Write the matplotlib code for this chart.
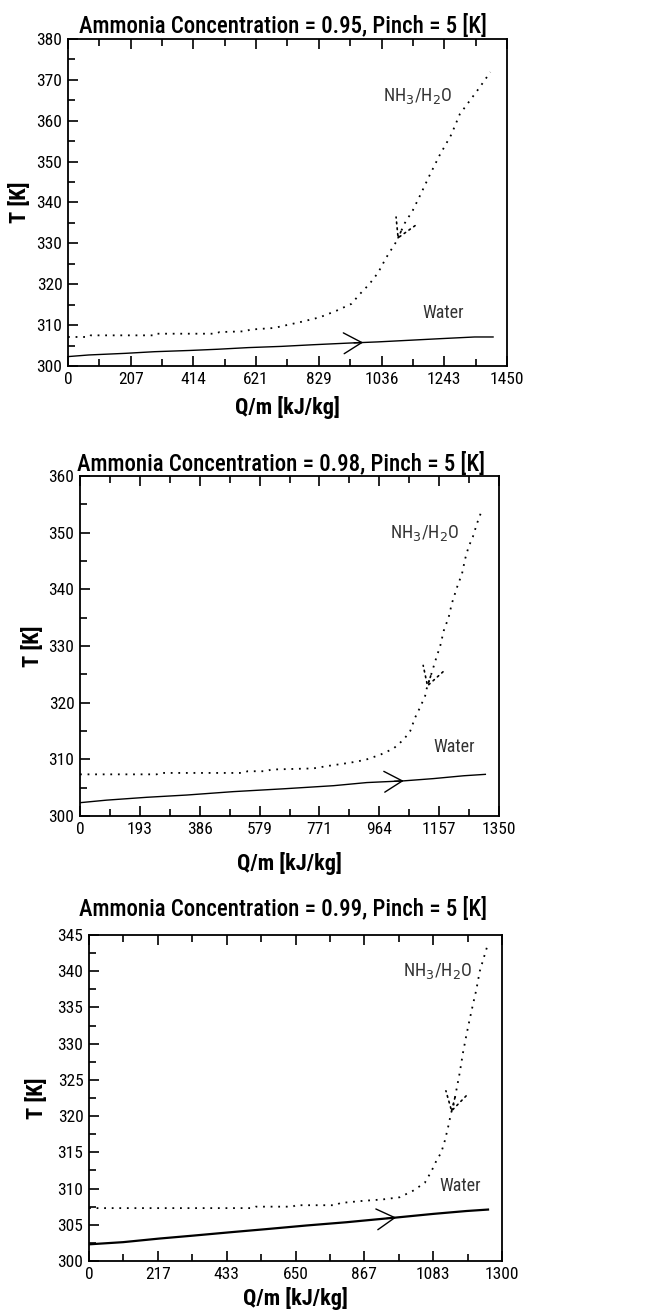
import numpy as np
import matplotlib.pyplot as plt

plt.rcParams['font.family'] = ['Roboto Condensed', 'Liberation Sans Narrow', 'Liberation Sans']

# ---- data ----
conc = [0.95, 0.98, 0.99]
pinch = 5
xmax = [1450, 1350, 1300]
n_xint = [7, 7, 6]
ylims = [(300, 380), (300, 360), (300, 345)]
ymaj = [10, 10, 5]

q95_nh3 = [0, 70, 75, 280, 285, 490, 500, 590, 600, 680, 716, 765, 831, 886, 936, 964, 995,
           1024, 1051, 1085, 1112, 1139, 1166, 1194, 1227, 1266, 1294, 1327, 1360, 1395]
t95_nh3 = [307.1, 307.1, 307.5, 307.5, 307.9, 307.9, 308.3, 308.5, 308.9, 309.3, 309.9, 310.7,
           311.9, 313.5, 315.2, 317.6, 320.0, 322.8, 326.5, 330.5, 334.9, 338.1, 342.2, 346.6,
           351.5, 356.6, 361.6, 364.9, 368.2, 371.9]
q95_w = [0, 69, 190, 286, 402, 495, 595, 705, 809, 925, 1024, 1129, 1233, 1343, 1404]
t95_w = [302.3, 302.7, 303.1, 303.5, 303.8, 304.1, 304.5, 304.8, 305.2, 305.6, 305.9, 306.3,
         306.7, 307.1, 307.1]

q98_nh3 = [0, 247, 260, 527, 540, 602, 615, 752, 795, 870, 919, 967, 1010, 1043, 1064, 1080,
           1096, 1112, 1118, 1134, 1145, 1161, 1172, 1188, 1198, 1215, 1231, 1241, 1252, 1266,
           1279, 1295]
t98_nh3 = [307.35, 307.35, 307.6, 307.6, 307.9, 307.9, 308.2, 308.4, 308.8, 309.4, 309.9, 310.8,
           311.9, 313.5, 315.0, 317.4, 319.2, 321.2, 322.7, 325.4, 327.4, 330.1, 332.7, 335.1,
           337.5, 340.4, 342.8, 345.4, 347.5, 349.3, 351.6, 354.0]
q98_w = [0, 86, 215, 344, 494, 656, 817, 924, 1043, 1139, 1236, 1306]
t98_w = [302.35, 302.8, 303.3, 303.7, 304.3, 304.8, 305.35, 305.9, 306.2, 306.6, 307.1, 307.35]

q99_nh3 = [0, 516, 525, 642, 650, 778, 790, 862, 925, 978, 1020, 1057, 1078, 1093, 1109, 1120,
           1130, 1140, 1146, 1156, 1167, 1177, 1188, 1198, 1209, 1219, 1230, 1245, 1256]
t99_nh3 = [307.3, 307.3, 307.5, 307.5, 307.7, 307.7, 308.0, 308.3, 308.5, 308.8, 309.7, 310.8,
           312.4, 313.8, 315.0, 316.6, 318.4, 320.5, 321.2, 323.5, 326.0, 328.7, 331.2, 333.3,
           335.5, 337.4, 340.0, 342.2, 343.8]
q99_w = [0, 107, 222, 327, 453, 558, 684, 810, 894, 967, 1083, 1188, 1256]
t99_w = [302.3, 302.6, 303.1, 303.5, 304.0, 304.4, 304.9, 305.35, 305.7, 306.0, 306.5, 306.9, 307.1]

nh3_q = [q95_nh3, q98_nh3, q99_nh3]
nh3_t = [t95_nh3, t98_nh3, t99_nh3]
w_q = [q95_w, q98_w, q99_w]
w_t = [t95_w, t98_w, t99_w]

# arrow positions (Q) and label anchors (Q, T)
w_arrow = [975, 1043, 967]
n_arrow = [1088, 1118, 1140]
nh3_lab = [(1040, 366), (1000, 350), (988, 340)]
w_lab = [(1172, 313), (1139, 312.2), (1102, 310.3)]

# axes boxes in figure pixels (left, right, top, bottom)
W, H = 664, 1316
boxes = [(68, 507, 39, 366), (80, 499, 476, 816), (89, 502, 935, 1261)]
title_pad = [4, 2, 14]
title_x = [0.49, 0.48, 0.47]
xlab_pad = [7, 11, 4]
ylab_x = [31, 44, 48]
water_lw = [1.0, 1.0, 1.6]

fig = plt.figure(figsize=(W / 100, H / 100), dpi=100)

for i in range(3):
    l, r, t, b = boxes[i]
    ax = fig.add_axes([l / W, 1 - b / H, (r - l) / W, (b - t) / H])

    ax.plot(nh3_q[i], nh3_t[i], color='k', lw=1.3, linestyle=(0, (1, 3.2)))
    ax.plot(w_q[i], w_t[i], color='k', lw=water_lw[i])

    # flow arrows
    qa = w_arrow[i]
    ta = np.interp(qa, w_q[i], w_t[i])
    tb = np.interp(qa - 30, w_q[i], w_t[i])
    ax.annotate('', xy=(qa, ta), xytext=(qa - 30, tb),
                arrowprops=dict(arrowstyle='->,head_length=1.3,head_width=0.75',
                                color='k', lw=1.0, shrinkA=0, shrinkB=0))
    qn = n_arrow[i]
    tn = np.interp(qn, nh3_q[i], nh3_t[i])
    tn2 = np.interp(qn + 12, nh3_q[i], nh3_t[i])
    ax.annotate('', xy=(qn, tn), xytext=(qn + 12, tn2),
                arrowprops=dict(arrowstyle='->,head_length=1.3,head_width=0.75',
                                color='k', lw=1.2, linestyle=(0, (1, 2.5)),
                                shrinkA=0, shrinkB=0))

    ax.text(nh3_lab[i][0], nh3_lab[i][1], r'NH$_3$/H$_2$O', fontsize=13, color='#333333',
            va='center', ha='left')
    ax.text(w_lab[i][0], w_lab[i][1], 'Water', fontsize=13, color='#333333',
            va='center', ha='left')

    ax.set_xlim(0, xmax[i])
    ax.set_ylim(*ylims[i])
    xt = np.linspace(0, xmax[i], n_xint[i] + 1)
    ax.set_xticks(xt)
    ax.set_xticklabels([str(int(round(v))) for v in xt])
    ax.set_xticks((xt[:-1] + xt[1:]) / 2, minor=True)
    yt = np.arange(ylims[i][0], ylims[i][1] + 0.1, ymaj[i])
    ax.set_yticks(yt)
    ax.set_yticks(yt[:-1] + ymaj[i] / 2, minor=True)

    ax.tick_params(which='both', direction='in', top=True, right=False, width=1.2,
                   labelsize=12.5, pad=4)
    ax.tick_params(which='major', length=7)
    ax.tick_params(which='minor', length=5)
    for s in ax.spines.values():
        s.set_linewidth(1.3)

    ax.set_title('Ammonia Concentration = %.2f, Pinch = %d [K]' % (conc[i], pinch),
                 fontsize=16.5, fontweight='medium', pad=title_pad[i], x=title_x[i])
    ax.set_xlabel('Q/m [kJ/kg]', fontsize=16, fontweight='bold', labelpad=xlab_pad[i])
    ax.set_ylabel('T [K]', fontsize=16, fontweight='bold')
    ax.yaxis.set_label_coords((ylab_x[i] - l) / (r - l), 0.5)

fig.savefig('out.png', dpi=100)
